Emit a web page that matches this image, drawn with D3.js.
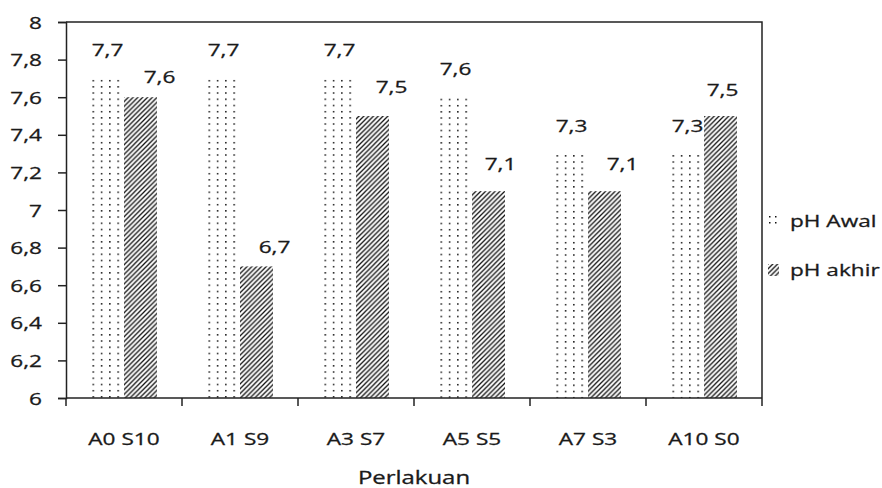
<!DOCTYPE html>
<html>
<head>
<meta charset="utf-8">
<script src="https://cdn.jsdelivr.net/npm/d3@7"></script>
<style>
  html, body { margin: 0; padding: 0; background: #fff; }
  svg { display: block; }
  text { font-family: "Open Sans", "Liberation Sans", sans-serif; fill: #1a1a1a; stroke: #1a1a1a; stroke-width: 0.3px; }
</style>
</head>
<body>
<svg id="chart" width="882" height="488"></svg>
<script>
// ---- data ----
const categories = ["A0 S10", "A1 S9", "A3 S7", "A5 S5", "A7 S3", "A10 S0"];
const seriesNames = ["pH Awal", "pH akhir"];
const phAwal  = [7.7, 7.7, 7.7, 7.6, 7.3, 7.3];
const phAkhir = [7.6, 6.7, 7.5, 7.1, 7.1, 7.5];
const yTickValues = [6, 6.2, 6.4, 6.6, 6.8, 7, 7.2, 7.4, 7.6, 7.8, 8];
const yTickLabels = ["6", "6,2", "6,4", "6,6", "6,8", "7", "7,2", "7,4", "7,6", "7,8", "8"];
const xTitle = "Perlakuan";

// ---- layout / style (not data) ----
const plot = { left: 66, right: 762, top: 22, bottom: 398 };
const SX = 1.33;            // horizontal stretch of the text in the reference
const FS = 17;              // font size
const akhirLabelDx = [19, 18, 19, 12, 18, 2];
const akhirLabelDy = [14, 13, 23, 21, 21, 20];
const awalLabelDy = 22;

const fmt = v => String(v).replace(".", ",");
const svg = d3.select("#chart");

function place(sel, x, y) {
  sel.attr("x", 0).attr("y", 0)
     .attr("transform", `translate(${x},${y}) scale(${SX},1)`);
  return sel;
}

const x0 = d3.scaleBand().domain(categories).range([plot.left, plot.right]).paddingInner(0).paddingOuter(0);
const inner = 66 / 116;
const x1 = d3.scaleBand().domain(seriesNames).range([0, x0.bandwidth() * inner]);
const barOffset = x0.bandwidth() * (1 - inner) / 2;
const y = d3.scaleLinear().domain([6, 8]).range([plot.bottom, plot.top]);

const defs = svg.append("defs");

// patterns per bar so they line up with each bar's left edge
categories.forEach((c, i) => {
  const bx = x0(c) + barOffset + x1("pH Awal");
  const p = defs.append("pattern")
    .attr("id", "dots" + i).attr("patternUnits", "userSpaceOnUse")
    .attr("x", bx + 1.5).attr("y", y(phAwal[i]) + 1.5)
    .attr("width", 8.3).attr("height", 6.2);
  p.append("rect").attr("width", 1.5).attr("height", 1.5).attr("fill", "#111");
});
const hp = defs.append("pattern")
  .attr("id", "hatch").attr("patternUnits", "userSpaceOnUse")
  .attr("width", 4.8).attr("height", 4.8);
hp.append("path").attr("d", "M-1,1 L1,-1 M0,4.8 L4.8,0 M3.8,5.8 L5.8,3.8")
  .attr("stroke", "#111").attr("stroke-width", 1.3);
const dl = defs.append("pattern")
  .attr("id", "dotsLegend").attr("patternUnits", "userSpaceOnUse")
  .attr("x", 769).attr("y", 216).attr("width", 6).attr("height", 6);
dl.append("rect").attr("width", 1.5).attr("height", 1.5).attr("fill", "#111");

// bars
const g = svg.append("g");
categories.forEach((c, i) => {
  const vals = [phAwal[i], phAkhir[i]];
  seriesNames.forEach((s, j) => {
    g.append("rect")
      .attr("x", x0(c) + barOffset + x1(s))
      .attr("y", y(vals[j]))
      .attr("width", x1.bandwidth())
      .attr("height", y(6) - y(vals[j]))
      .attr("fill", j === 0 ? `url(#dots${i})` : "url(#hatch)");
  });
});

// frame: top + right border
svg.append("path")
  .attr("d", `M${plot.left},${plot.top}H${plot.right}V${plot.bottom}`)
  .attr("fill", "none").attr("stroke", "#222").attr("stroke-width", 1.5);

// y axis
const yAxis = svg.append("g")
  .attr("transform", `translate(${plot.left},0)`)
  .call(d3.axisLeft(y).tickValues(yTickValues)
    .tickFormat((d, i) => yTickLabels[i]).tickSize(8).tickPadding(16));
yAxis.select(".domain").attr("stroke", "#222").attr("stroke-width", 1.5);
yAxis.selectAll(".tick line").attr("stroke", "#222").attr("stroke-width", 1.5);
yAxis.selectAll(".tick text")
  .attr("font-size", FS).attr("font-family", null).attr("fill", null)
  .attr("dy", null)
  .each(function () {
    d3.select(this).attr("x", 0).attr("y", 0)
      .attr("transform", `translate(-24,6) scale(${SX},1)`);
  });

// x axis
svg.append("line")
  .attr("x1", plot.left).attr("x2", plot.right)
  .attr("y1", plot.bottom).attr("y2", plot.bottom)
  .attr("stroke", "#222").attr("stroke-width", 1.5);
const bounds = categories.map(c => x0(c)).concat([plot.right]);
svg.selectAll(".xtick").data(bounds).enter().append("line")
  .attr("x1", d => d).attr("x2", d => d)
  .attr("y1", plot.bottom).attr("y2", plot.bottom + 8)
  .attr("stroke", "#222").attr("stroke-width", 1.5);
categories.forEach(c => {
  place(svg.append("text"), x0(c) + x0.bandwidth() / 2, 445)
    .attr("text-anchor", "middle").attr("font-size", FS).text(c);
});
place(svg.append("text"), (plot.left + plot.right) / 2, 484)
  .attr("text-anchor", "middle").attr("font-size", 18).text(xTitle);

// value labels
categories.forEach((c, i) => {
  const ax = x0(c) + barOffset + x1("pH Awal") + x1.bandwidth() / 2;
  place(svg.append("text"), ax, y(phAwal[i]) - awalLabelDy)
    .attr("text-anchor", "middle").attr("font-size", FS).text(fmt(phAwal[i]));
  const hx = x0(c) + barOffset + x1("pH akhir") + x1.bandwidth() / 2 + akhirLabelDx[i];
  place(svg.append("text"), hx, y(phAkhir[i]) - akhirLabelDy[i])
    .attr("text-anchor", "middle").attr("font-size", FS).text(fmt(phAkhir[i]));
});

// legend
const legendY = [227, 276];
seriesNames.forEach((s, j) => {
  svg.append("rect")
    .attr("x", 768).attr("y", legendY[j] - 12)
    .attr("width", 11).attr("height", 12)
    .attr("fill", j === 0 ? "url(#dotsLegend)" : "url(#hatch)");
  place(svg.append("text"), 790, legendY[j])
    .attr("font-size", FS).text(s);
});
</script>
</body>
</html>
